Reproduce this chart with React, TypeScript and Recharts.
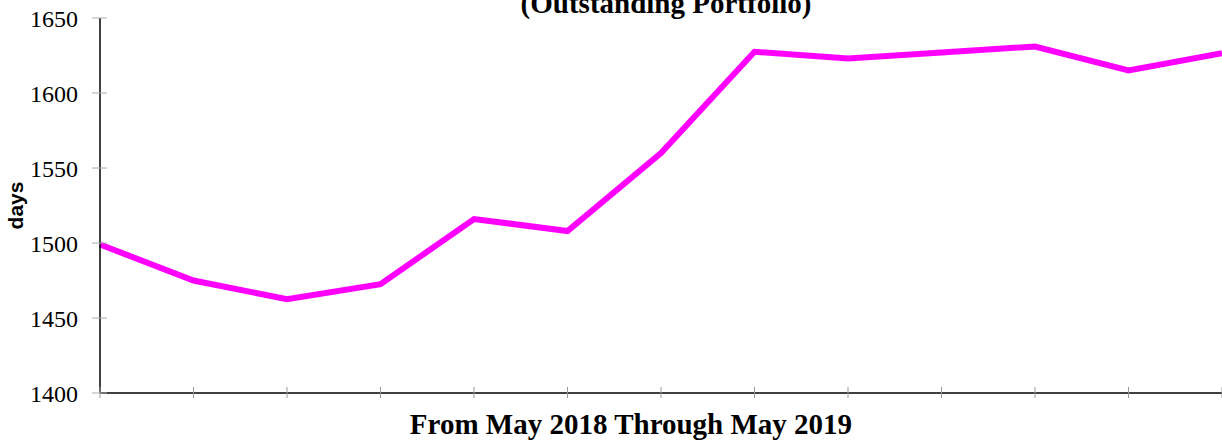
import { Label, Line, LineChart, XAxis, YAxis } from 'recharts';

const months = [
  'May 2018',
  'Jun 2018',
  'Jul 2018',
  'Aug 2018',
  'Sep 2018',
  'Oct 2018',
  'Nov 2018',
  'Dec 2018',
  'Jan 2019',
  'Feb 2019',
  'Mar 2019',
  'Apr 2019',
  'May 2019',
];
const days = [1499, 1475, 1462.5, 1472.5, 1516, 1508, 1560, 1627.5, 1623, 1627, 1631, 1615, 1626.5];
const yTicks = [1400, 1450, 1500, 1550, 1600, 1650];

const data = months.map((m, i) => ({ month: m, days: days[i] }));

const serif = "'Liberation Serif', 'Times New Roman', serif";

function XTick(props: any) {
  const { x, y } = props;
  // ticks cross the axis line
  return <line x1={x} x2={x} y1={y - 6} y2={y + 5} stroke="#999" strokeWidth={1} />;
}

function YTick(props: any) {
  const { x, y, payload } = props;
  return (
    <g>
      <line x1={x - 8} x2={x + 7} y1={y} y2={y} stroke="#aaa" strokeWidth={1} />
      <text
        x={x - 22}
        y={y + 1}
        textAnchor="end"
        dominantBaseline="central"
        style={{ fontFamily: serif, fontSize: 24, fill: '#000' }}
      >
        {payload.value}
      </text>
    </g>
  );
}

export default function App() {
  return (
    <div style={{ position: 'absolute', left: 0, top: 0, width: 1222, height: 446, background: '#fff' }}>
      <LineChart width={1222} height={446} data={data} margin={{ top: 18, right: 0, bottom: 0, left: 0 }}>
        <text x={666} y={13} textAnchor="middle" fontFamily={serif} fontWeight="bold" fontSize={29} fill="#000">
          (Outstanding Portfolio)
        </text>
        <XAxis
          dataKey="month"
          height={53}
          interval={0}
          axisLine={{ stroke: '#000', strokeWidth: 1.5 }}
          tickLine={false}
          tickSize={0}
          tickMargin={0}
          tick={<XTick />}
        >
          <Label
            value="From May 2018 Through May 2019"
            position="insideBottom"
            offset={12}
            dx={-30}
            style={{ fontFamily: serif, fontWeight: 'bold', fontSize: 29, fill: '#000' }}
          />
        </XAxis>
        <YAxis
          width={100}
          domain={[1400, 1650]}
          ticks={yTicks}
          interval={0}
          axisLine={{ stroke: '#000', strokeWidth: 1.5 }}
          tickLine={false}
          tickSize={0}
          tickMargin={0}
          tick={<YTick />}
        >
          <Label
            value="days"
            angle={-90}
            position="insideLeft"
            offset={0}
            dx={16}
            dy={0}
            style={{ fontFamily: "'Liberation Sans', Arial, sans-serif", fontWeight: 'bold', fontSize: 21, fill: '#000', textAnchor: 'middle' }}
          />
        </YAxis>
        <Line
          type="linear"
          dataKey="days"
          stroke="#FF00FF"
          strokeWidth={6}
          dot={false}
          isAnimationActive={false}
        />
      </LineChart>
    </div>
  );
}
